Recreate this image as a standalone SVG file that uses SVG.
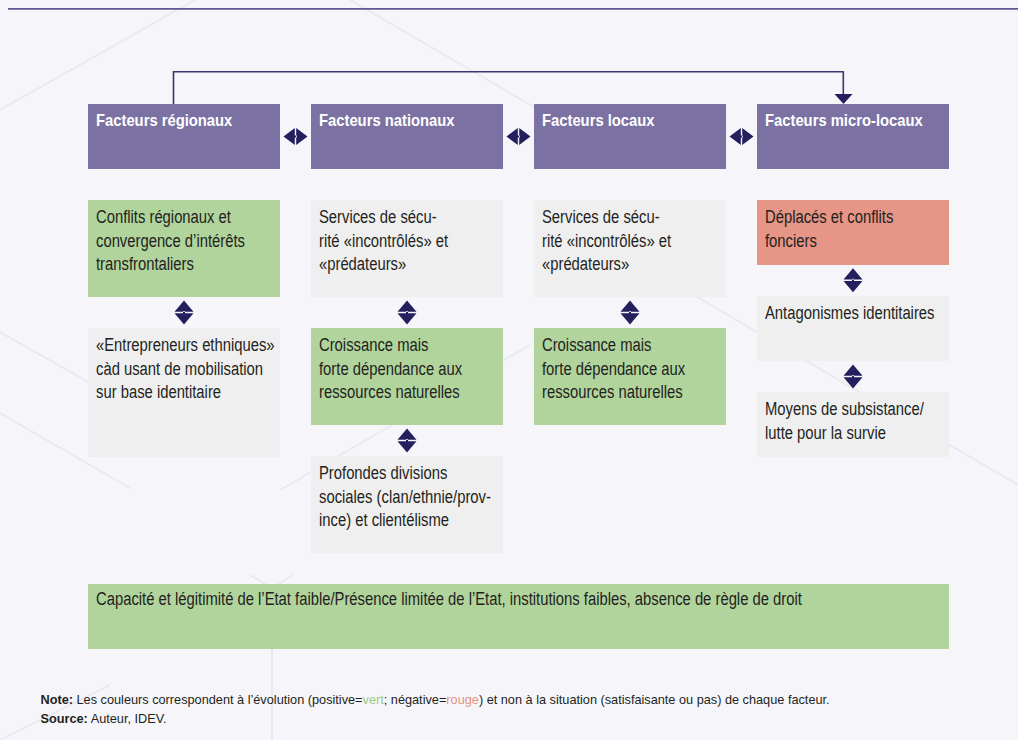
<svg xmlns="http://www.w3.org/2000/svg" width="1018" height="740" viewBox="0 0 1018 740">
<defs>
<style>
.bg{fill:#f6f6fa}
.hex{stroke:#e9e9f0;stroke-width:2;fill:none}
.hdr{fill:#7b72a3}
.grn{fill:#b1d49c}
.gry{fill:#efefef}
.red{fill:#e69586}
.ht{font-family:"Liberation Sans",Arial,sans-serif;font-size:17px;font-weight:bold;fill:#ffffff}
.bt{font-family:"Liberation Sans",Arial,sans-serif;font-size:19px;fill:#231f20}
.ft{font-family:"Liberation Sans",Arial,sans-serif;font-size:13.5px;fill:#231f20}
.arw{fill:#251f5e}
.con{stroke:#3d3470;stroke-width:1.6;fill:none}
</style>
</defs>
<rect class="bg" x="0" y="0" width="1018" height="740"/>
<g id="background-lines">
<path class="hex" d="M0 110 L195 0"/>
<path class="hex" d="M350 0 L560 122"/>
<path class="hex" d="M600 240 L1018 485"/>
<path class="hex" d="M0 332 L120 400"/>
<path class="hex" d="M0 413 L130 488"/>
<path class="hex" d="M280 490 L530 345"/>
<path class="hex" d="M250 575 L272 588 L293 575 M272 588 L272 740"/>
<path class="hex" d="M0 740 L110 685"/>
</g>
<line x1="8" y1="8.8" x2="1018" y2="8.8" stroke="#5f5795" stroke-width="1.8"/>

<g id="connectors">
<path class="con" d="M173.5 104 V71.8 H843.3 V95"/>
<path class="arw" d="M834.5 94 L852.5 94 L843.5 104 Z"/>
<g id="h-arrows">
<path class="arw" d="M283.5 136.5 L294.8 128 L294.8 145 Z M307.5 136.5 L296.2 128 L296.2 145 Z M294 135.5 H297 V137.5 H294 Z"/>
<path class="arw" d="M506.5 136.5 L517.8 128 L517.8 145 Z M530.5 136.5 L519.2 128 L519.2 145 Z M517 135.5 H520 V137.5 H517 Z"/>
<path class="arw" d="M729.5 136.5 L740.8 128 L740.8 145 Z M753.5 136.5 L742.2 128 L742.2 145 Z M740 135.5 H743 V137.5 H740 Z"/>
</g>
<g id="v-arrows">
<path class="arw" d="M184 300.5 L174.5 311.8 L193.5 311.8 Z M184 324.5 L174.5 313.2 L193.5 313.2 Z M183 311 H185 V314 H183 Z"/>
<path class="arw" d="M407 300.5 L397.5 311.8 L416.5 311.8 Z M407 324.5 L397.5 313.2 L416.5 313.2 Z M406 311 H408 V314 H406 Z"/>
<path class="arw" d="M630 300.5 L620.5 311.8 L639.5 311.8 Z M630 324.5 L620.5 313.2 L639.5 313.2 Z M629 311 H631 V314 H629 Z"/>
<path class="arw" d="M407 428.5 L397.5 439.8 L416.5 439.8 Z M407 452.5 L397.5 441.2 L416.5 441.2 Z M406 439 H408 V442 H406 Z"/>
<path class="arw" d="M853 268.3 L843.5 279.6 L862.5 279.6 Z M853 292.3 L843.5 281 L862.5 281 Z M852 278.8 H854 V281.8 H852 Z"/>
<path class="arw" d="M853 364.5 L843.5 375.8 L862.5 375.8 Z M853 388.5 L843.5 377.2 L862.5 377.2 Z M852 375 H854 V378 H852 Z"/>
</g>
</g>

<g id="n-regionaux"><rect class="hdr" x="88" y="104" width="192" height="65"/><g transform="translate(96 0) scale(0.87 1)"><text class="ht" x="0" y="126">Facteurs régionaux</text></g></g>
<g id="n-nationaux"><rect class="hdr" x="311" y="104" width="192" height="65"/><g transform="translate(319 0) scale(0.87 1)"><text class="ht" x="0" y="126">Facteurs nationaux</text></g></g>
<g id="n-locaux"><rect class="hdr" x="534" y="104" width="192" height="65"/><g transform="translate(542 0) scale(0.87 1)"><text class="ht" x="0" y="126">Facteurs locaux</text></g></g>
<g id="n-microlocaux"><rect class="hdr" x="757" y="104" width="192" height="65"/><g transform="translate(765 0) scale(0.87 1)"><text class="ht" x="0" y="126">Facteurs micro-locaux</text></g></g>

<g id="n-conflits"><rect class="grn" x="88" y="200" width="192" height="97"/><g transform="translate(96 0) scale(0.78 1)"><text class="bt" x="0" y="223.3">Conflits régionaux et</text><text class="bt" x="0" y="246.7">convergence d’intérêts</text><text class="bt" x="0" y="270">transfrontaliers</text></g></g>
<g id="n-services1"><rect class="gry" x="311" y="200" width="192" height="97"/><g transform="translate(319 0) scale(0.78 1)"><text class="bt" x="0" y="223.3">Services de sécu-</text><text class="bt" x="0" y="246.7">rité «incontrôlés» et</text><text class="bt" x="0" y="270">«prédateurs»</text></g></g>
<g id="n-services2"><rect class="gry" x="534" y="200" width="192" height="97"/><g transform="translate(542 0) scale(0.78 1)"><text class="bt" x="0" y="223.3">Services de sécu-</text><text class="bt" x="0" y="246.7">rité «incontrôlés» et</text><text class="bt" x="0" y="270">«prédateurs»</text></g></g>
<g id="n-deplaces"><rect class="red" x="757" y="200" width="192" height="65"/><g transform="translate(765 0) scale(0.78 1)"><text class="bt" x="0" y="223.3">Déplacés et conflits</text><text class="bt" x="0" y="246.7">fonciers</text></g></g>

<g id="n-entrepreneurs"><rect class="gry" x="88" y="328" width="192" height="129"/><g transform="translate(96 0) scale(0.78 1)"><text class="bt" x="0" y="351.3">«Entrepreneurs ethniques»</text><text class="bt" x="0" y="374.7">càd usant de mobilisation</text><text class="bt" x="0" y="398">sur base identitaire</text></g></g>
<g id="n-croissance1"><rect class="grn" x="311" y="328" width="192" height="97"/><g transform="translate(319 0) scale(0.78 1)"><text class="bt" x="0" y="351.3">Croissance mais</text><text class="bt" x="0" y="374.7">forte dépendance aux</text><text class="bt" x="0" y="398">ressources naturelles</text></g></g>
<g id="n-croissance2"><rect class="grn" x="534" y="328" width="192" height="97"/><g transform="translate(542 0) scale(0.78 1)"><text class="bt" x="0" y="351.3">Croissance mais</text><text class="bt" x="0" y="374.7">forte dépendance aux</text><text class="bt" x="0" y="398">ressources naturelles</text></g></g>
<g id="n-antagonismes"><rect class="gry" x="757" y="296" width="192" height="65"/><g transform="translate(765 0) scale(0.78 1)"><text class="bt" x="0" y="319.3">Antagonismes identitaires</text></g></g>
<g id="n-moyens"><rect class="gry" x="757" y="392" width="192" height="65"/><g transform="translate(765 0) scale(0.78 1)"><text class="bt" x="0" y="415.3">Moyens de subsistance/</text><text class="bt" x="0" y="438.7">lutte pour la survie</text></g></g>
<g id="n-profondes"><rect class="gry" x="311" y="456" width="192" height="97"/><g transform="translate(319 0) scale(0.78 1)"><text class="bt" x="0" y="479.3">Profondes divisions</text><text class="bt" x="0" y="502.7">sociales (clan/ethnie/prov-</text><text class="bt" x="0" y="526">ince) et clientélisme</text></g></g>

<g id="n-etat"><rect class="grn" x="88" y="584" width="861" height="65"/><g transform="translate(96 0) scale(0.78 1)"><text class="bt" x="0" y="605">Capacité et légitimité de l’Etat faible/Présence limitée de l’Etat, institutions faibles, absence de règle de droit</text></g></g>

<g id="notes" transform="translate(40.5 0) scale(0.943 1)">
<text class="ft" x="0" y="704"><tspan font-weight="bold">Note:</tspan> Les couleurs correspondent à l’évolution (positive=<tspan fill="#9cc98a">vert</tspan>; négative=<tspan fill="#e8907e">rouge</tspan>) et non à la situation (satisfaisante ou pas) de chaque facteur.</text>
<text class="ft" x="0" y="723"><tspan font-weight="bold">Source:</tspan> Auteur, IDEV.</text>
</g>
</svg>
